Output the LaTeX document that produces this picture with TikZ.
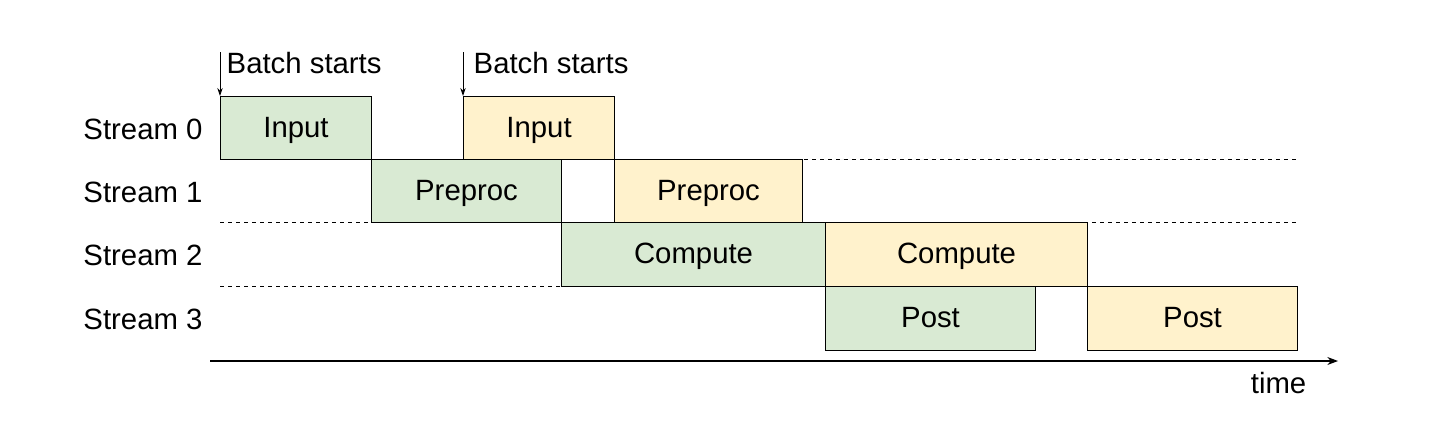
\documentclass[tikz,border=0pt]{standalone}
\usepackage{fontspec}
\setmainfont{Liberation Sans}
\usetikzlibrary{arrows.meta}
\definecolor{gfill}{HTML}{D9EAD3}
\definecolor{yfill}{HTML}{FFF2CC}
\begin{document}
\begin{tikzpicture}[x=0.75pt,y=-0.75pt,
  box/.style={draw=black,line width=0.8pt,anchor=north west,inner sep=0,font=\fontsize{22}{24}\selectfont,text height=16pt,text depth=2pt},
  lab/.style={font=\fontsize{22}{24}\selectfont},
  dash line/.style={dashed,line width=0.7pt}]
\useasboundingbox (0,0) rectangle (1440,444);
\def\bx#1#2#3#4#5#6#7{\node[box,fill=#6,minimum width=#3*0.75pt-#1*0.75pt,minimum height=#4*0.75pt-#2*0.75pt] (#5) at (#1,#2) {#7};}
\bx{220}{96}{371}{159}{gi}{gfill}{Input}
\bx{463}{96}{614}{159}{yi}{yfill}{Input}
\bx{371}{159}{561}{222}{gp}{gfill}{Preproc}
\bx{614}{159}{802}{222}{yp}{yfill}{Preproc}
\bx{561}{222}{825}{286}{gc}{gfill}{Compute}
\bx{825}{222}{1087}{286}{yc}{yfill}{Compute}
\bx{825}{286}{1035}{350}{gq}{gfill}{Post}
\bx{1087}{286}{1297}{350}{yq}{yfill}{Post}
\draw[dash line] (220,159) -- (1297,159);
\draw[dash line] (220,222) -- (1297,222);
\draw[dash line] (220,286) -- (1297,286);
\node[lab] (s0) at (143,129) {Stream 0};
\node[lab] (s1) at (143,192) {Stream 1};
\node[lab] (s2) at (143,255) {Stream 2};
\node[lab] (s3) at (143,319) {Stream 3};
\coordinate (a0) at (210,361);
\coordinate (a1) at (1338,361);
\draw[-{Stealth[length=8pt,width=6pt]},line width=0.8pt] (a0) -- (a1);
\node[lab,anchor=east] (t) at (1311,383) {time};
\coordinate (b1) at (220,52);
\coordinate (b2) at (463,52);
\draw[-{Stealth[length=6pt,width=4pt]},line width=0.7pt] (b1) -- (gi.north west);
\draw[-{Stealth[length=6pt,width=4pt]},line width=0.7pt] (b2) -- (yi.north west);
\node[lab,anchor=west] (l1) at (222,63) {Batch starts};
\node[lab,anchor=west] (l2) at (469,63) {Batch starts};
\end{tikzpicture}
\end{document}
